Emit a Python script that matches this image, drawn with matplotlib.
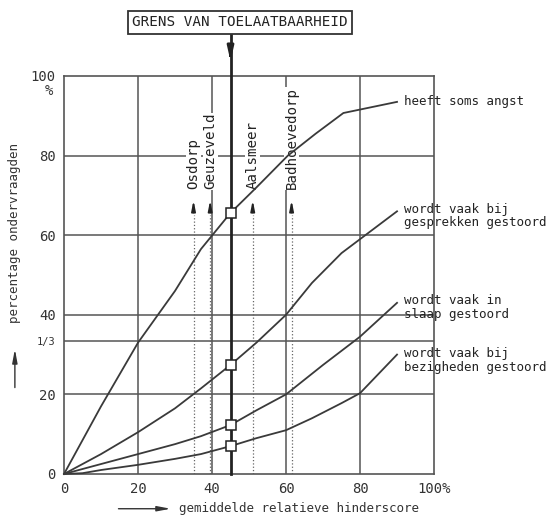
import matplotlib
matplotlib.use('Agg')
import matplotlib.pyplot as plt

# gemiddelde relatieve hinderscore (x) vs percentage ondervraagden (y)
x_angst = [0, 10, 20, 30, 37, 45, 52, 60.5, 68, 75.5, 90]
y_angst = [0, 17, 33, 46, 56.5, 65.6, 72, 80, 85.5, 90.7, 93.5]

x_gesprek = [0, 10, 20, 30, 37, 45, 52, 60, 67, 75, 80, 90]
y_gesprek = [0, 5, 10.5, 16.5, 21.5, 27.4, 33, 40, 48, 55.5, 59, 66]

x_slaap = [0, 10, 20, 30, 37, 45, 52, 60, 70, 80, 90]
y_slaap = [0, 2.5, 5, 7.5, 9.5, 12.3, 16, 20, 27.4, 34.5, 43]

x_bezig = [0, 5, 10, 20, 30, 37, 45, 52, 60, 67, 75, 80, 90]
y_bezig = [0, 0.2, 1, 2.3, 3.8, 5, 7, 9, 11, 14, 17.8, 20.3, 30]

labels = ['heeft soms angst',
          'wordt vaak bij\ngesprekken gestoord',
          'wordt vaak in\nslaap gestoord',
          'wordt vaak bij\nbezigheden gestoord']
label_y = [93.5, 68.2, 45.2, 31.8]

grens = 45
grens_y = [65.6, 27.4, 12.3, 7]

plaatsen = ['Osdorp', 'Geuzeveld', 'Aalsmeer', 'Badhoevedorp']
plaats_x = [35, 39.5, 51, 61.5]

xticks = [0, 20, 40, 60, 80, 100]
xticklabels = ['0', '20', '40', '60', '80', '100%']
yticks = [0, 20, 100 / 3, 40, 60, 80, 100]
yticklabels = ['0', '20', '1/3', '40', '60', '80', '100']

ink = '#3a3a3a'
font = 'DejaVu Sans Mono'

fig = plt.figure(figsize=(5.51, 5.17), dpi=100)
ax = fig.add_axes([0.1162, 0.0832, 0.6715, 0.7698])
ax.set_xlim(0, 100)
ax.set_ylim(0, 100)

for v in [20, 40, 60, 80]:
    ax.axvline(v, color='#555555', lw=1.1, zorder=1)
for v in [20, 100 / 3, 40, 60, 80]:
    ax.axhline(v, color='#555555', lw=1.1, zorder=1)
for s in ax.spines.values():
    s.set_color('#555555')
    s.set_linewidth(1.2)

series = [(x_angst, y_angst), (x_gesprek, y_gesprek), (x_slaap, y_slaap), (x_bezig, y_bezig)]
for (xs, ys), lab, ly in zip(series, labels, label_y):
    ax.plot(xs, ys, color=ink, lw=1.3, zorder=3, clip_on=False)
    ax.text(xs[-1] + 2, ly, lab, fontsize=9.0, family=font, color='#222222',
            va='top' if '\n' in lab else 'center', ha='left', linespacing=1.05)

# grens van toelaatbaarheid
ax.plot([grens, grens], [0, 110.5], color='#222222', lw=2.0, zorder=4, clip_on=False)
ax.annotate('', xy=(grens, 103.0), xytext=(grens, 106.5), annotation_clip=False,
            arrowprops=dict(arrowstyle='-|>,head_width=0.18,head_length=0.8',
                            color='#222222', lw=2.0))
ax.plot([grens] * len(grens_y), grens_y, 's', ms=7, mfc='white', mec='#222222',
        mew=1.1, zorder=5)
fig.text(0.4356, 0.9565, 'GRENS VAN TOELAATBAARHEID', family=font, fontsize=10.3,
         ha='center', va='center', color='#222222',
         bbox=dict(boxstyle='square,pad=0.3', fc='white', ec='#333333', lw=1.3))

# plaatsen
for px, naam in zip(plaats_x, plaatsen):
    ax.plot([px, px], [0, 65], color='#666666', lw=0.9, ls=':', zorder=2)
    ax.annotate('', xy=(px, 69.5), xytext=(px, 65), zorder=4,
                arrowprops=dict(arrowstyle='-|>,head_width=0.12,head_length=0.6',
                                color='#222222', lw=1.2))
    ax.text(px, 71.5, naam, rotation=90, ha='center', va='bottom', family=font,
            fontsize=10.2, color='#222222', zorder=2,
            bbox=dict(fc='white', ec='none', pad=0.3))

ax.set_xticks(xticks)
ax.set_xticklabels(xticklabels, family=font, fontsize=10, color='#333333')
ax.set_yticks(yticks)
ax.set_yticklabels(yticklabels, family=font, fontsize=10, color='#333333')
ax.get_yticklabels()[2].set_fontsize(7.5)
ax.tick_params(length=0, pad=6)
ax.text(-3.0, 96.3, '%', ha='right', va='center', family=font, fontsize=10, color='#333333')

fig.text(0.325, 0.004, 'gemiddelde relatieve hinderscore', family=font, fontsize=9,
         ha='left', va='bottom', color='#333333')
fig.add_artist(matplotlib.patches.FancyArrowPatch(
    (0.21, 0.016), (0.315, 0.016), transform=fig.transFigure,
    arrowstyle='-|>,head_width=0.15,head_length=0.8', color='#333333', lw=1.0,
    mutation_scale=10))
fig.text(0.027, 0.55, 'percentage ondervraagden', family=font, fontsize=9,
         rotation=90, ha='center', va='center', color='#333333')
fig.add_artist(matplotlib.patches.FancyArrowPatch(
    (0.027, 0.245), (0.027, 0.33), transform=fig.transFigure,
    arrowstyle='-|>,head_width=0.15,head_length=0.8', color='#333333', lw=1.0,
    mutation_scale=10))

fig.savefig('out.png', dpi=100)
